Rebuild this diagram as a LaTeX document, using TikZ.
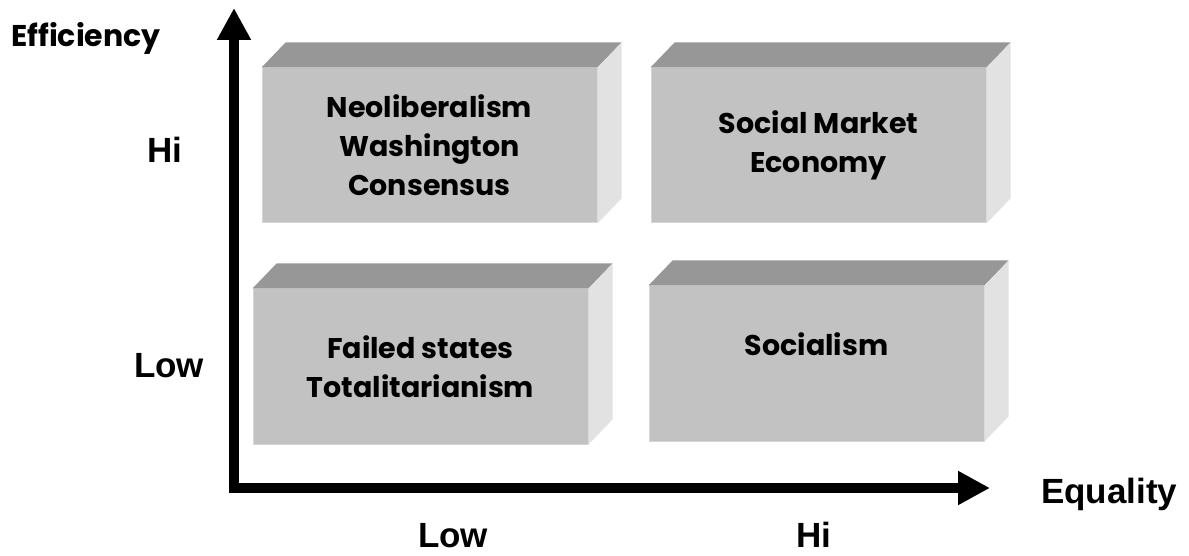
\documentclass[tikz,border=0pt]{standalone}
\usepackage{fontspec}
\setmainfont{Poppins}
\newfontfamily\labelfont{Liberation Sans}
\usepackage{tikz}
\usetikzlibrary{arrows.meta,positioning}

\definecolor{frontgray}{RGB}{194,194,194}
\definecolor{topgray}{RGB}{151,151,151}
\definecolor{sidegray}{RGB}{226,226,226}
\definecolor{edgegray}{RGB}{214,214,214}

\begin{document}
\begin{tikzpicture}[x=1pt,y=1pt,>={Triangle[length=32pt,width=32pt]},
    slab/.style={fill=frontgray,draw=edgegray,line width=1pt,minimum width=335pt,
      minimum height=155pt,inner sep=0pt,align=center,
      font=\fontsize{28.5}{39}\selectfont\bfseries},
    axislabel/.style={anchor=base,inner sep=0pt,
      font=\labelfont\fontsize{35}{42}\selectfont\bfseries},
    axis/.style={line width=10pt,<->}]
  \useasboundingbox (0,0) rectangle (1189,555);

  \node[slab] (neo) at (429.5,409.5) {Neoliberalism\\Washington\\Consensus};
  \node[slab] (sme) [right=53pt of neo] {Social Market\\Economy};
  \node[slab] (fail) [below=65pt of neo,xshift=-9pt] {Failed states\\Totalitarianism};
  \node[slab] (soc) [right=60pt of fail,yshift=3pt] {Socialism\\~};

  % top and right faces of each block
  \foreach \b in {neo,sme,fail,soc} {
    \fill[topgray] (\b.north west) -- ++(24,25) -- ([shift={(24,25)}]\b.north east)
      -- (\b.north east) -- cycle;
    \fill[sidegray] (\b.north east) -- ([shift={(24,25)}]\b.north east)
      -- ([shift={(24,25)}]\b.south east) -- (\b.south east) -- cycle;
  }

  % axes
  \coordinate (ytip) at (234,547);
  \coordinate (xtip) at (990,67);
  \draw[axis] (ytip) |- (xtip);

  \node[anchor=base west,inner sep=0pt,font=\fontsize{30}{36}\selectfont\bfseries]
    (eff) at (11,508) {Efficiency};
  \node[axislabel] (yhi) at (164.5,392) {Hi};
  \node[axislabel] (ylow) at (169,178) {Low};
  \node[axislabel,anchor=base west] (equ) at (1041,52) {Equality};
  \node[axislabel] (xlow) at (453,8) {Low};
  \node[axislabel] (xhi) at (814,8) {Hi};

\end{tikzpicture}
\end{document}
